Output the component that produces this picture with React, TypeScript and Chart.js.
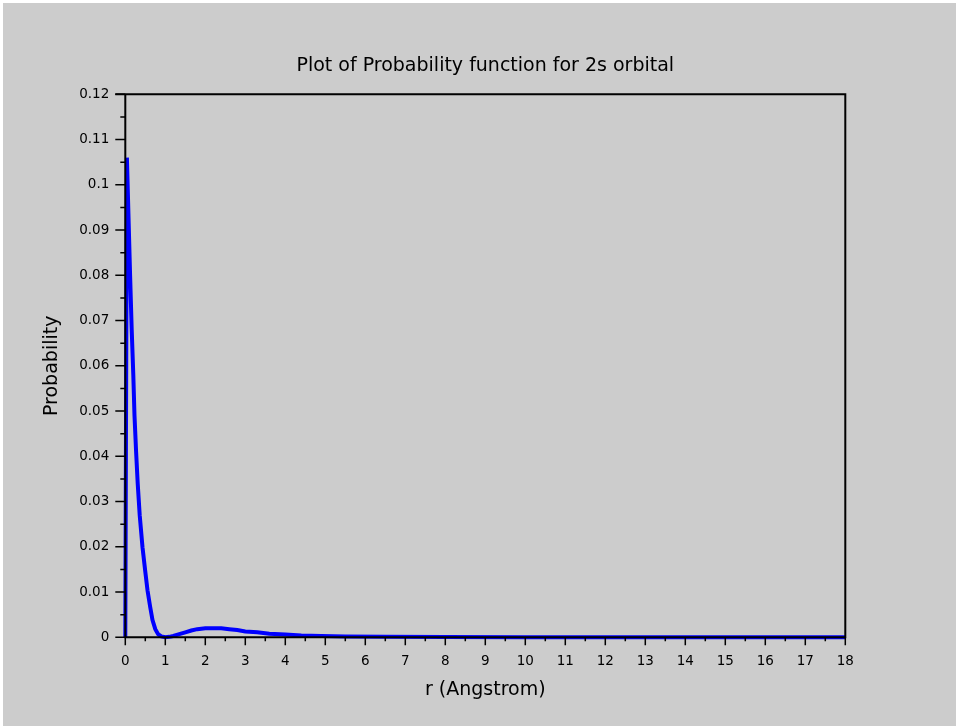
import React, { useEffect, useRef } from 'react';
import { Chart, registerables } from 'chart.js';

Chart.register(...registerables);

// r values (Angstrom)
const rValues = [
  0, 0.04, 0.08, 0.12, 0.16, 0.2, 0.23, 0.27, 0.31, 0.36,
  0.43, 0.5, 0.555, 0.62, 0.68, 0.75, 0.82, 0.9, 1.0, 1.1,
  1.2, 1.35, 1.5, 1.65, 1.8, 2.0, 2.2, 2.4, 2.6, 2.8,
  3.0, 3.3, 3.6, 4.0, 4.4, 4.9, 5.5, 6.5, 8, 10,
  14, 18,
];
// probability values
const probValues = [
  0, 0.106, 0.093, 0.08, 0.068, 0.058, 0.049, 0.041, 0.034, 0.027,
  0.0199, 0.0145, 0.0104, 0.0068, 0.0038, 0.0018, 0.0007, 0.0002, 0, 0.0001,
  0.0003, 0.0007, 0.0011, 0.0015, 0.0018, 0.002, 0.002, 0.002, 0.0018, 0.0016,
  0.0013, 0.0011, 0.0008, 0.0006, 0.0004, 0.0003, 0.0002, 0.0001, 0.00005, 0.00002,
  0, 0,
];

const xTickLabels = [
  '0', '1', '2', '3', '4', '5', '6', '7', '8', '9',
  '10', '11', '12', '13', '14', '15', '16', '17', '18',
];
const yTickLabels = [
  '0', '0.01', '0.02', '0.03', '0.04', '0.05', '0.06',
  '0.07', '0.08', '0.09', '0.1', '0.11', '0.12',
];

const titleText = 'Plot of Probability function for 2s orbital';
const xTitle = 'r (Angstrom)';
const yTitle = 'Probability';

const FONT = 'DejaVu Sans';

export default function App() {
  const ref = useRef<HTMLCanvasElement>(null);

  useEffect(() => {
    if (!ref.current) return;

    const axesPlugin = {
      id: 'scilabAxes',
      afterDatasetsDraw(chart: any) {
        const { ctx, chartArea: a, scales } = chart;
        const xs = scales.x;
        const ys = scales.y;
        ctx.save();
        ctx.strokeStyle = '#000';
        ctx.lineCap = 'butt';
        // ticks
        ctx.lineWidth = 1.5;
        ctx.beginPath();
        ys.ticks.forEach((t: any) => {
          const y = ys.getPixelForValue(t.value);
          ctx.moveTo(a.left - 10, y);
          ctx.lineTo(a.left, y);
        });
        for (let i = 0; i < ys.ticks.length - 1; i++) {
          const v = (ys.ticks[i].value + ys.ticks[i + 1].value) / 2;
          const y = ys.getPixelForValue(v);
          ctx.moveTo(a.left - 5, y);
          ctx.lineTo(a.left, y);
        }
        xs.ticks.forEach((t: any) => {
          const x = xs.getPixelForValue(t.value);
          ctx.moveTo(x, a.bottom);
          ctx.lineTo(x, a.bottom + 8);
        });
        for (let i = 0; i < xs.ticks.length - 1; i++) {
          const v = (xs.ticks[i].value + xs.ticks[i + 1].value) / 2;
          const x = xs.getPixelForValue(v);
          ctx.moveTo(x, a.bottom);
          ctx.lineTo(x, a.bottom + 4);
        }
        ctx.stroke();
        // axes and frame
        ctx.lineWidth = 2;
        ctx.beginPath();
        ctx.moveTo(a.left - 10, a.top);
        ctx.lineTo(a.right, a.top);
        ctx.lineTo(a.right, a.bottom);
        ctx.lineTo(a.left, a.bottom);
        ctx.lineTo(a.left, a.top);
        ctx.stroke();
        ctx.restore();
      },
    };

    const chart = new Chart(ref.current, {
      type: 'line',
      data: {
        datasets: [
          {
            data: rValues.map((r, i) => ({ x: r, y: probValues[i] })),
            borderColor: '#0000ff',
            borderWidth: 4,
            pointRadius: 0,
            tension: 0,
            fill: false,
            clip: false as any,
          },
        ],
      },
      options: {
        responsive: false,
        animation: false,
        devicePixelRatio: 1,
        layout: { padding: { left: 0, top: 0, right: 110.7, bottom: 0 } },
        plugins: {
          legend: { display: false },
          tooltip: { enabled: false },
          title: {
            display: true,
            text: titleText,
            fullSize: false,
            color: '#000',
            font: { family: FONT, size: 19, weight: 'normal' },
            padding: { top: 51.6, bottom: 16.9 },
          },
        },
        scales: {
          x: {
            type: 'linear',
            min: 0,
            max: 18,
            grid: { display: false, drawTicks: false },
            border: { display: false },
            ticks: {
              stepSize: 1,
              autoSkip: false,
              maxRotation: 0,
              padding: 16,
              color: '#000',
              font: { family: FONT, size: 13.5 },
              callback: (_v: any, i: number) => xTickLabels[i],
            },
            title: {
              display: true,
              text: xTitle,
              color: '#000',
              font: { family: FONT, size: 19 },
              padding: { top: 0, bottom: 24.6 },
            },
            afterFit: (s: any) => {
              s.height = 88.7;
            },
          },
          y: {
            type: 'linear',
            min: 0,
            max: 0.12,
            grid: { display: false, drawTicks: false },
            border: { display: false },
            ticks: {
              stepSize: 0.01,
              autoSkip: false,
              padding: 16,
              color: '#000',
              font: { family: FONT, size: 13.5 },
              callback: (_v: any, i: number) => yTickLabels[i],
            },
            title: {
              display: true,
              text: yTitle,
              color: '#000',
              font: { family: FONT, size: 19 },
              padding: { top: 37.6, bottom: 0 },
            },
            afterFit: (s: any) => {
              s.width = 122.3;
            },
          },
        },
      } as any,
      plugins: [axesPlugin],
    });

    return () => chart.destroy();
  }, []);

  return (
    <div
      style={{
        position: 'fixed',
        left: 0,
        top: 0,
        width: 956,
        height: 726,
        background: '#ffffff',
      }}
    >
      <canvas
        ref={ref}
        width={953}
        height={723}
        style={{
          position: 'absolute',
          left: 3,
          top: 3,
          width: 953,
          height: 723,
          background: '#cccccc',
        }}
      />
    </div>
  );
}
